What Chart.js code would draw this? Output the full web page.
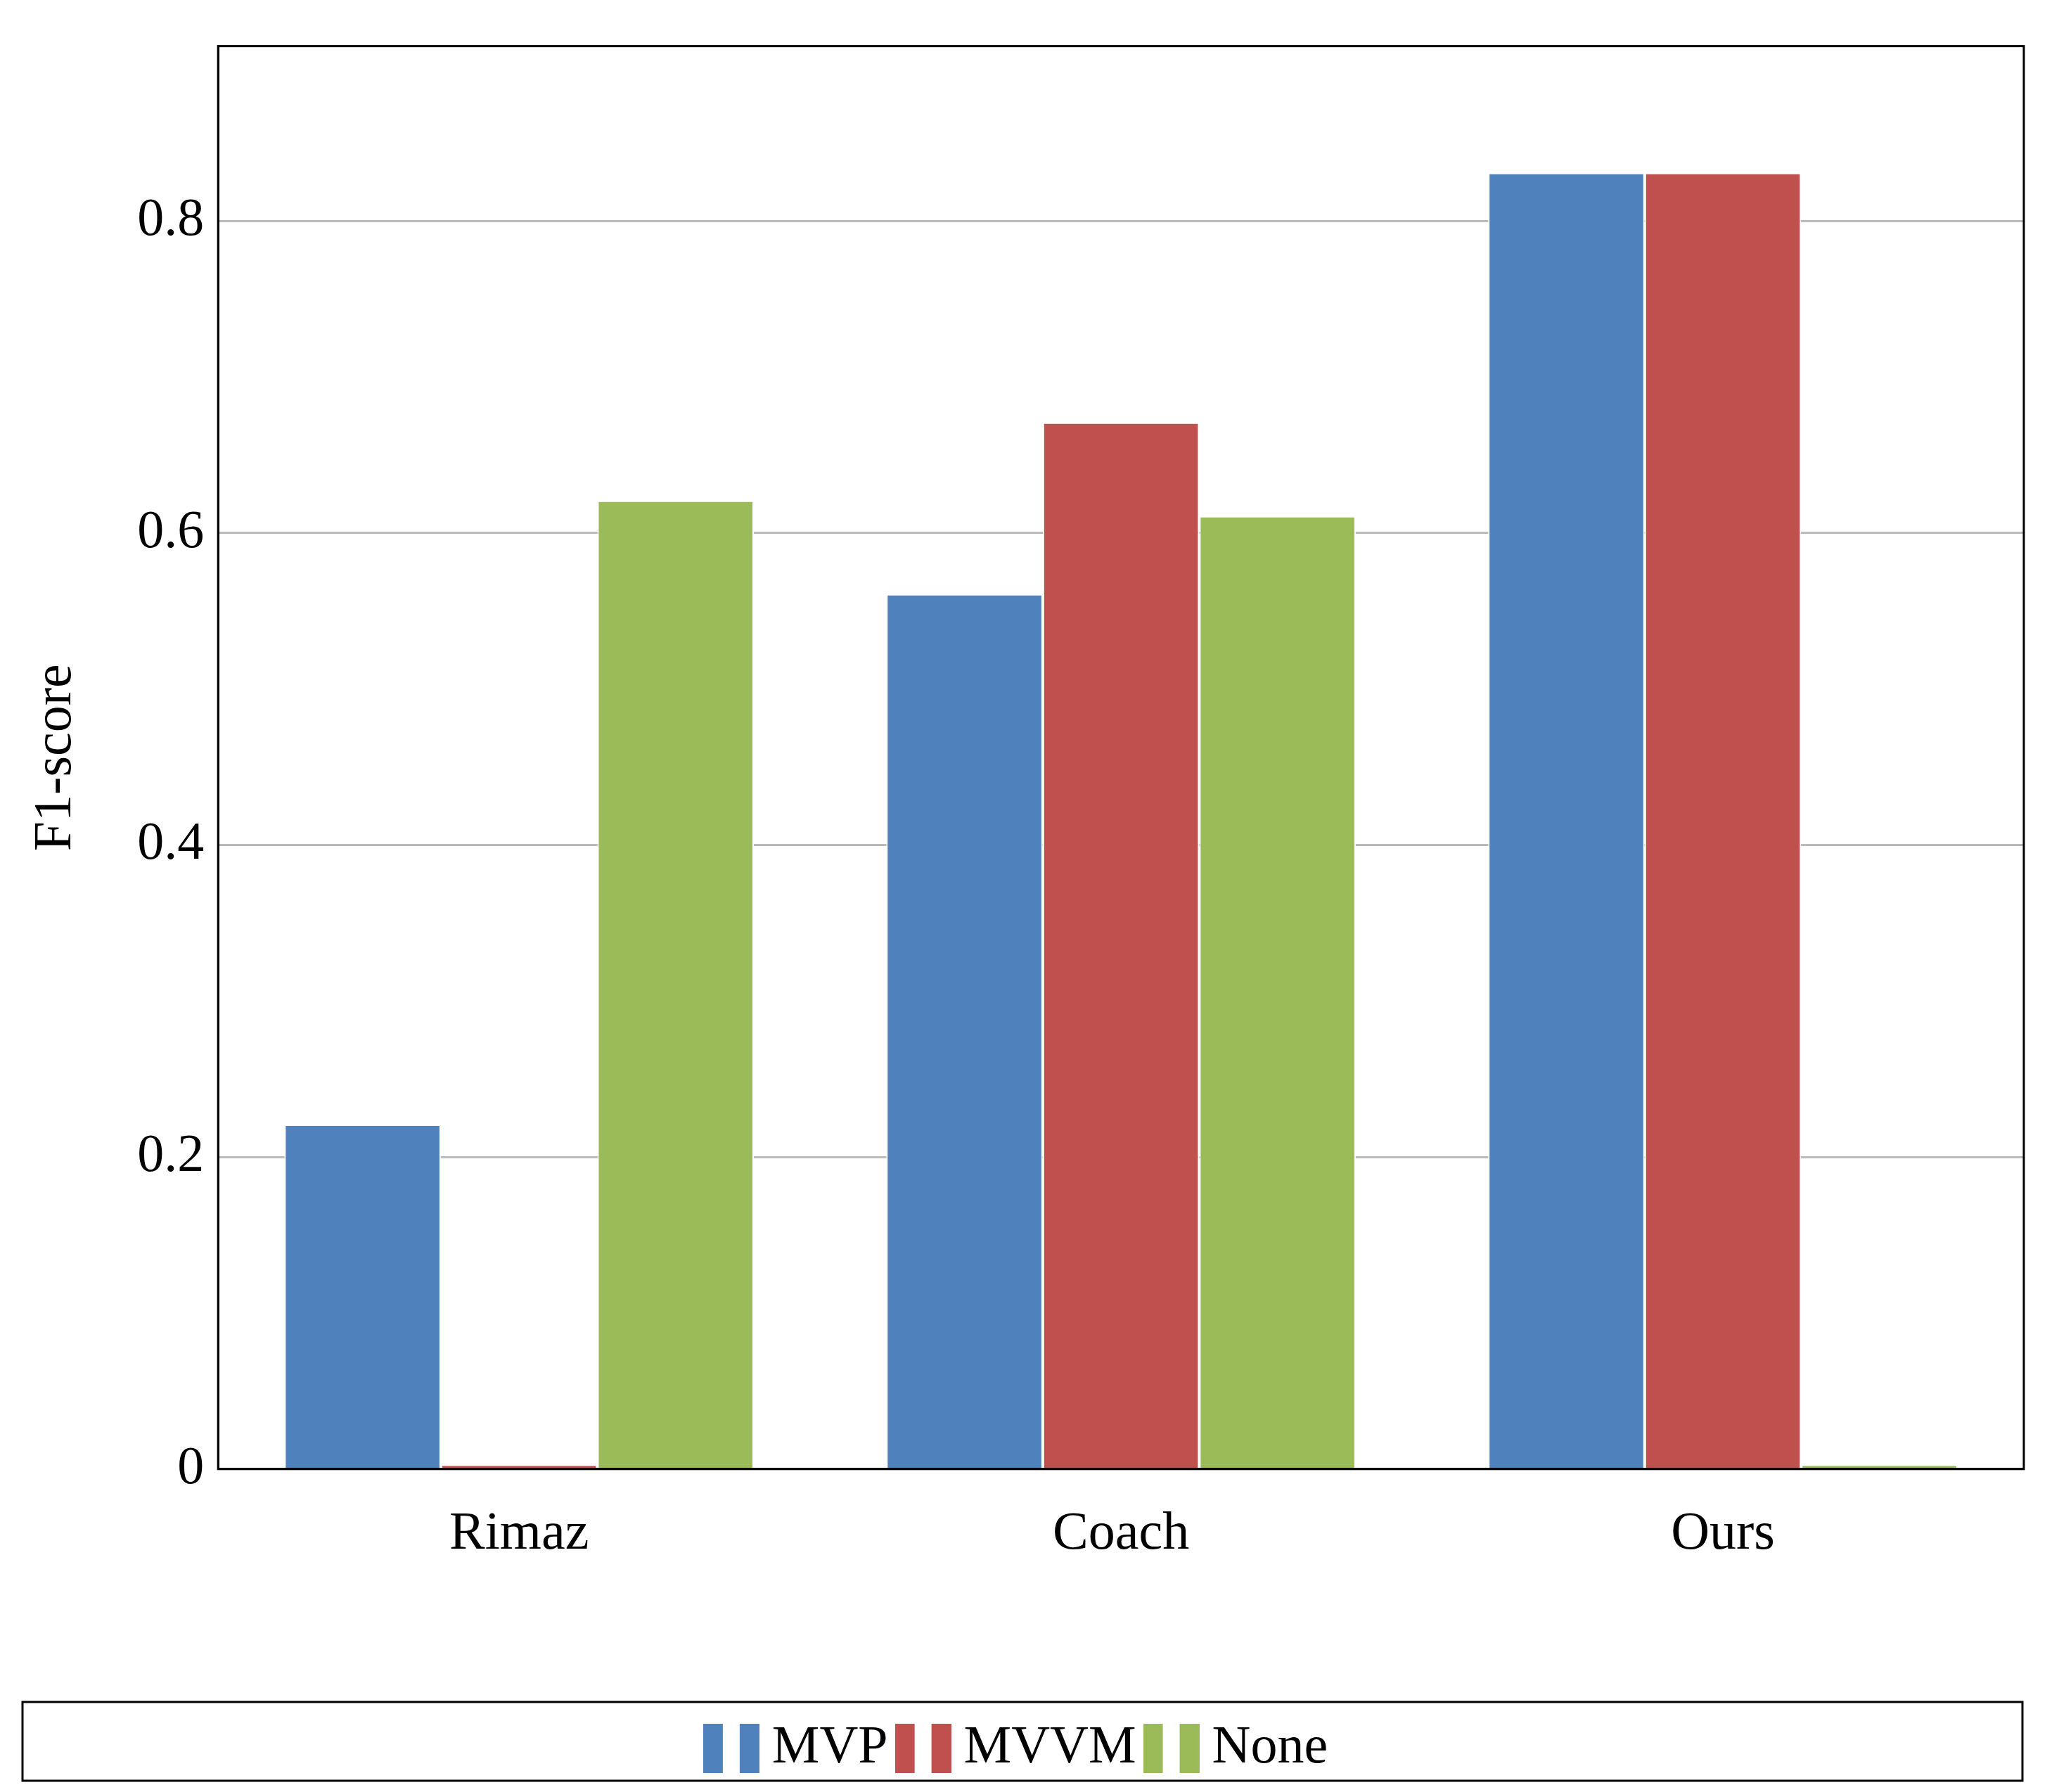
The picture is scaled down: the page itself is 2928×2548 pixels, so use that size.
<!DOCTYPE html>
<html lang="en">
<head>
  <meta charset="UTF-8" />
  <title>F1-score</title>
  <script src="https://cdn.jsdelivr.net/npm/chart.js"></script>
  <style>
    body { margin: 0; background: #fff; }
    #wrap { width: 2928px; height: 2548px; }
  </style>
</head>
<body>
  <div id="wrap"><canvas id="chart"></canvas></div>
  <script>
    const categories = ['Rimaz', 'Coach', 'Ours'];
    const seriesNames = ['MVP', 'MVVM', 'None'];
    const mvp = [0.22, 0.56, 0.83];
    const mvvm = [0.002, 0.67, 0.83];
    const none = [0.62, 0.61, 0.002];
    const colors = ['#4f81bd', '#c0504d', '#9bbb59'];
    const yTicks = [0, 0.2, 0.4, 0.6, 0.8];

    const font = "'Liberation Serif', 'DejaVu Serif', serif";

    // legend marker: two small bars
    function marker(color) {
      const c = document.createElement('canvas');
      c.width = 80; c.height = 70;
      const g = c.getContext('2d');
      g.fillStyle = color;
      g.fillRect(0, 0, 28, 70);
      g.fillRect(52, 0, 28, 70);
      return c;
    }

    const frame = {
      id: 'frame',
      afterDraw(chart) {
        const { ctx, chartArea: a, legend } = chart;
        ctx.save();
        ctx.strokeStyle = '#000';
        ctx.lineWidth = 3;
        ctx.strokeRect(a.left, a.top, a.right - a.left, a.bottom - a.top);
        ctx.strokeRect(legend.left + 2, legend.top + 2, legend.width - 4, legend.height - 4);
        ctx.restore();
      }
    };

    new Chart(document.getElementById('chart'), {
      type: 'bar',
      data: {
        labels: categories,
        datasets: [mvp, mvvm, none].map((d, i) => ({
          label: seriesNames[i],
          data: d,
          backgroundColor: colors[i],
          borderColor: '#ffffff',
          borderWidth: { left: 2, right: 2 },
          borderSkipped: 'bottom',
          pointStyle: marker(colors[i])
        }))
      },
      options: {
        responsive: true,
        maintainAspectRatio: false,
        animation: false,
        layout: { padding: { left: 30, right: 50, top: 58, bottom: 14 } },
        datasets: { bar: { categoryPercentage: 0.78, barPercentage: 1 } },
        plugins: {
          legend: {
            position: 'bottom',
            labels: {
              usePointStyle: true,
              color: '#000',
              font: { family: font, size: 76 },
              padding: 30
            }
          },
          tooltip: { enabled: false }
        },
        scales: {
          x: {
            grid: { display: false },
            border: { color: '#000', width: 3 },
            ticks: { color: '#000', font: { family: font, size: 76 }, padding: 40 },
            afterFit: s => { s.height += 150; }
          },
          y: {
            min: 0,
            max: 0.912,
            afterBuildTicks: s => { s.ticks = yTicks.map(v => ({ value: v })); },
            grid: { color: '#bbbbbb', lineWidth: 3, tickLength: 0 },
            border: { color: '#000', width: 3 },
            ticks: {
              color: '#000',
              font: { family: font, size: 76 },
              padding: 20,
              callback: v => String(v)
            },
            title: {
              display: true,
              text: 'F1-score',
              color: '#000',
              font: { family: font, size: 76 },
              padding: { bottom: 50 }
            }
          }
        }
      },
      plugins: [frame]
    });
  </script>
</body>
</html>
